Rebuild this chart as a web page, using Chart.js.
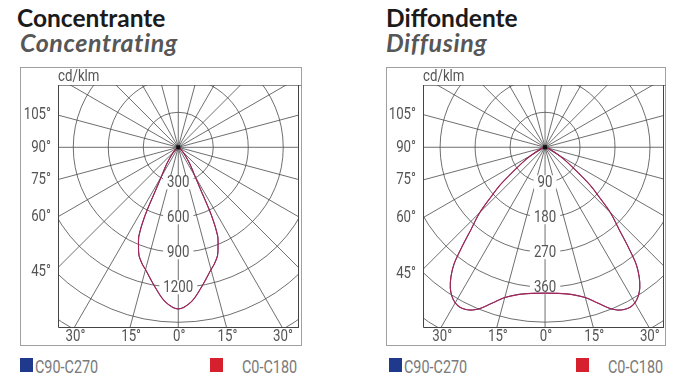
<!DOCTYPE html>
<html><head><meta charset="utf-8">
<script src="https://cdn.jsdelivr.net/npm/chart.js@4.4.1/dist/chart.umd.min.js"></script>
<style>
html,body{margin:0;padding:0;background:#fff;width:685px;height:389px;overflow:hidden;position:relative;font-family:Roboto,sans-serif}
canvas{position:absolute}
.t1{position:absolute;font:700 24.5px Lato,sans-serif;color:#1b1b1b;line-height:24px;white-space:nowrap}
.t2{position:absolute;font:italic 700 25px Lato,sans-serif;color:#575757;line-height:24px;white-space:nowrap;letter-spacing:0.6px}
.sq{position:absolute;width:13px;height:14px}
.lg{position:absolute;font:18px Roboto,sans-serif;color:#7a7a7a;transform:scaleX(0.8);transform-origin:0 0;white-space:nowrap;line-height:18px}
</style></head><body>
<div class="t1" style="left:17px;top:6px">Concentrante</div>
<div class="t2" style="left:20px;top:30px">Concentrating</div>
<div class="t1" style="left:386px;top:6px">Diffondente</div>
<div class="t2" style="left:386px;top:30px">Diffusing</div>
<canvas id="c1" width="282" height="279" style="left:20px;top:67px"></canvas>
<canvas id="c2" width="280" height="279" style="left:386px;top:67px"></canvas>
<div class="sq" style="left:20px;top:358px;background:#1f3a8c"></div>
<div class="lg" style="left:35px;top:358px">C90-C270</div>
<div class="sq" style="left:210px;top:358px;background:#d6202e"></div>
<div class="lg" style="left:242px;top:358px">C0-C180</div>
<div class="sq" style="left:389px;top:358px;background:#1f3a8c"></div>
<div class="lg" style="left:404px;top:358px">C90-C270</div>
<div class="sq" style="left:576px;top:358px;background:#d6202e"></div>
<div class="lg" style="left:608px;top:358px">C0-C180</div>
<script>
// ---- data ----
const concAngles = [0,5,10,15,17,20,22,24,26,28,30,32,35,40,45,50,60,75,90];
const concC0C180 = [1385,1325,1200,1085,1050,985,910,830,650,400,290,230,170,95,55,30,15,5,0];
const concC90C270 = [1385,1325,1200,1085,1050,985,910,830,650,400,290,230,170,95,55,30,15,5,0];
const concRings = [300,600,900,1200];

const diffAngles = [0,5,10,15,18,20,22,24,26,28,30,32,34,36,38,40,42,45,48,50,54,58,62,70,80,90];
const diffC0C180 = [375,377,384,400,418,432,447,458,464,466,462,452,436,412,380,330,285,238,180,152,88,55,30,10,3,0];
const diffC90C270 = [375,377,384,400,418,432,447,458,464,466,462,452,436,412,380,330,285,238,180,152,88,55,30,10,3,0];
const diffRings = [90,180,270,360];

const leftAngleTicks = [105,90,75,60,45];
const leftAngleLabels = ['105°','90°','75°','60°','45°'];
const bottomAngleTicks = [-30,-15,0,15,30];
const bottomAngleLabels = ['30°','15°','0°','15°','30°'];
const unitLabel = 'cd/klm';
const seriesNames = ['C90-C270','C0-C180'];

function polarPoints(angles, values){
  const pts=[];
  for(let i=angles.length-1;i>=0;i--){const a=-angles[i]*Math.PI/180;pts.push({x:values[i]*Math.sin(a),y:-values[i]*Math.cos(a)});}
  for(let i=1;i<angles.length;i++){const a=angles[i]*Math.PI/180;pts.push({x:values[i]*Math.sin(a),y:-values[i]*Math.cos(a)});}
  return pts;
}

function ctext(ctx,txt,x,y,align){
  ctx.save();ctx.translate(x,y);ctx.scale(0.78,1);ctx.textAlign=align;ctx.textBaseline='middle';ctx.fillText(txt,0,0);ctx.restore();
}

function makePlugin(rings){
  const step = rings[0];
  return {
    id:'polarFrame',
    beforeDraw(chart){
      const ctx=chart.ctx, W=chart.width, H=chart.height, ca=chart.chartArea;
      ctx.save();
      ctx.strokeStyle='#a0a0a0';ctx.lineWidth=1;
      ctx.strokeRect(0.5,0.5,W-1,H-1);
      ctx.strokeStyle='#8a8a8a';
      ctx.beginPath();ctx.moveTo(ca.left,ca.top+0.5);ctx.lineTo(W,ca.top+0.5);ctx.stroke();
      ctx.fillStyle='#555';ctx.font='17px Roboto';
      ctext(ctx,unitLabel,ca.left,(ca.top)/2+1,'left');
      ctx.restore();
    },
    beforeDatasetsDraw(chart){
      const ctx=chart.ctx, ca=chart.chartArea, sx=chart.scales.x, sy=chart.scales.y;
      const cx=sx.getPixelForValue(0), cy=sy.getPixelForValue(0);
      const ppu=(sx.getPixelForValue(step)-cx)/step;
      ctx.save();
      ctx.beginPath();ctx.rect(ca.left,ca.top,ca.right-ca.left,ca.bottom-ca.top);ctx.clip();
      ctx.strokeStyle='#4a4a4a';ctx.lineWidth=0.8;
      for(let k=1;k<=9;k++){ctx.beginPath();ctx.arc(cx,cy,k*step*ppu,0,Math.PI*2);ctx.stroke();}
      for(let a=0;a<360;a+=15){const r=a*Math.PI/180;ctx.beginPath();ctx.moveTo(cx,cy);ctx.lineTo(cx+Math.sin(r)*600,cy+Math.cos(r)*600);ctx.stroke();}
      ctx.font='17px Roboto';
      rings.forEach(v=>{
        const y=cy+v*ppu;const w=ctx.measureText(String(v)).width*0.78;
        ctx.fillStyle='#fff';ctx.fillRect(cx-w/2-4,y-7,w+8,14);
        ctx.fillStyle='#555';ctext(ctx,String(v),cx,y+0.5,'center');
      });
      ctx.restore();
      ctx.save();ctx.fillStyle='#555';ctx.font='17px Roboto';
      leftAngleTicks.forEach((a,i)=>{
        const y=cy-Math.tan((a-90)*Math.PI/180)*(cx-ca.left)+(a===45?4:0);
        ctext(ctx,leftAngleLabels[i],ca.left-7,y,'right');
      });
      bottomAngleTicks.forEach((a,i)=>{
        const x=cx+Math.tan(a*Math.PI/180)*(ca.bottom-cy);
        ctext(ctx,bottomAngleLabels[i],x+1,ca.bottom+10,'center');
      });
      ctx.restore();
    },
    afterDatasetsDraw(chart){
      const ctx=chart.ctx, ca=chart.chartArea, sx=chart.scales.x, sy=chart.scales.y;
      const cx=sx.getPixelForValue(0), cy=sy.getPixelForValue(0);
      ctx.save();
      ctx.fillStyle='#111';ctx.fillRect(cx-2,cy-2,4,4);
      ctx.strokeStyle='#444';ctx.lineWidth=1;
      ctx.beginPath();
      ctx.moveTo(ca.left+0.5,ca.top);ctx.lineTo(ca.left+0.5,ca.bottom+0.5);ctx.lineTo(ca.right,ca.bottom+0.5);
      ctx.moveTo(ca.right-0.5,ca.top);ctx.lineTo(ca.right-0.5,ca.bottom+0.5);
      ctx.stroke();
      ctx.restore();
    }
  };
}

function makeChart(id,angles,c0,c90,rings,xr,yr,pad){
  return new Chart(document.getElementById(id),{
    type:'scatter',
    data:{datasets:[
      {label:seriesNames[1],data:polarPoints(angles,c0),showLine:true,borderColor:'#a82458',borderWidth:1.1,pointRadius:0,tension:0.3,fill:false},
      {label:seriesNames[0],data:polarPoints(angles,c90),showLine:true,borderColor:'rgba(38,34,90,0.88)',borderWidth:1,pointRadius:0,tension:0.3,fill:false}
    ]},
    options:{
      responsive:false,animation:false,
      layout:{padding:pad},
      plugins:{legend:{display:false},tooltip:{enabled:false}},
      scales:{
        x:{type:'linear',display:false,min:xr[0],max:xr[1]},
        y:{type:'linear',display:false,min:yr[0],max:yr[1]}
      }
    },
    plugins:[makePlugin(rings)]
  });
}

makeChart('c1',concAngles,concC0C180,concC90C270,concRings,[-1031,1035],[-1540,534],{left:38,top:18,right:3,bottom:19});
makeChart('c2',diffAngles,diffC0C180,diffC90C270,diffRings,[-314,306],[-462,160],{left:37,top:18,right:2,bottom:19});
</script>
</body></html>
